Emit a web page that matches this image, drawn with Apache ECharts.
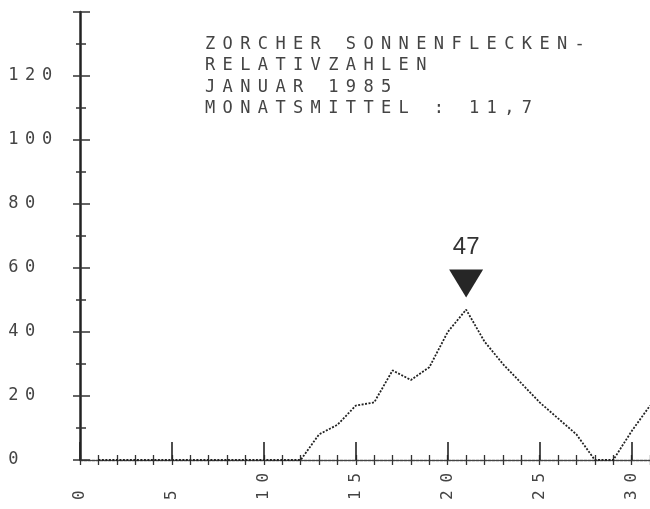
<!DOCTYPE html>
<html>
<head>
<meta charset="utf-8">
<script src="https://cdn.jsdelivr.net/npm/echarts@6/dist/echarts.min.js"></script>
<style>
html,body{margin:0;padding:0;background:#fff;}
#c{width:650px;height:509px;}
</style>
</head>
<body>
<div id="c"></div>
<script>
// Data
const days = [1,2,3,4,5,6,7,8,9,10,11,12,13,14,15,16,17,18,19,20,21,22,23,24,25,26,27,28,29,30,31];
const sunspots = [0,0,0,0,0,0,0,0,0,0,0,0,8,11,17,18,28,25,29,40,47,37,30,24,18,13,8,0,0,9,17];
const peakDay = 21;
const peakValue = 47;
const xTickLabels = [0,5,10,15,20,25,30];
const yTickLabels = [0,20,40,60,80,100,120];
const titleLines = ['ZORCHER SONNENFLECKEN-','RELATIVZAHLEN','JANUAR 1985','MONATSMITTEL : 11,7'];

const MONO = 'DejaVu Sans Mono';
const INK = '#444';
const PITCH = 17.5;

function spaced(str, tag) {
  return String(str).split('').map(c => '{' + tag + '|' + c + '}').join('');
}

const chart = echarts.init(document.getElementById('c'), null, {renderer: 'canvas'});

const xBase = {
  type: 'value', min: 0, max: 31, interval: 1, position: 'bottom',
  splitLine: {show: false}, axisLabel: {show: false}, axisLine: {show: false}
};

const option = {
  animation: false,
  backgroundColor: '#fff',
  grid: {left: 80, right: 0, top: 12, bottom: 49, containLabel: false, outerBoundsMode: 'none'},
  xAxis: [
    Object.assign({}, xBase, {
      axisLine: {show: true, lineStyle: {color: '#444', width: 1.3, type: [3, 1]}},
      axisTick: {show: true, inside: true, length: 5, lineStyle: {color: '#333', width: 1.3}}
    }),
    Object.assign({}, xBase, {
      axisTick: {show: true, inside: false, length: 5, lineStyle: {color: '#333', width: 1.3}}
    }),
    Object.assign({}, xBase, {
      interval: 5,
      axisTick: {show: true, inside: true, length: 18, customValues: xTickLabels, lineStyle: {color: '#222', width: 1.6}},
      axisLabel: {
        show: true, customValues: xTickLabels, rotate: 90, align: 'left', verticalAlign: 'middle', margin: 44,
        formatter: v => spaced(v, 'd'),
        rich: {d: {width: PITCH, align: 'center', fontFamily: MONO, fontSize: 16, color: INK}}
      }
    })
  ],
  yAxis: [
    {
      type: 'value', min: 0, max: 140, interval: 20, position: 'left',
      splitLine: {show: false},
      axisLine: {show: true, lineStyle: {color: '#222', width: 2.5}},
      axisTick: {show: true, inside: false, length: 7, lineStyle: {color: '#333', width: 1.5}},
      minorTick: {show: true, splitNumber: 2, length: 4, lineStyle: {color: '#333', width: 1.5}},
      axisLabel: {
        show: true, customValues: yTickLabels, align: 'left', verticalAlign: 'middle', margin: 75,
        formatter: v => spaced(v, 'd'),
        rich: {d: {width: 16.8, align: 'center', fontFamily: MONO, fontSize: 17, color: INK}}
      }
    },
    {
      type: 'value', min: 0, max: 140, interval: 20, position: 'left',
      splitLine: {show: false},
      axisLine: {show: false},
      axisLabel: {show: false},
      axisTick: {show: true, inside: true, length: 10, lineStyle: {color: '#333', width: 1.5}},
      minorTick: {show: true, splitNumber: 2, length: 6, lineStyle: {color: '#333', width: 1.5}}
    }
  ],
  graphic: [{
    type: 'text', left: 205, top: 36, z: 10,
    style: {
      text: titleLines.map(l => spaced(l, 't')).join('\n'),
      rich: {t: {width: 17.6, align: 'left', fontFamily: MONO, fontSize: 17, lineHeight: 21.5, fill: INK, color: INK}}
    }
  }],
  series: [{
    type: 'line',
    xAxisIndex: 0, yAxisIndex: 0,
    data: days.map((d, i) => [d, sunspots[i]]),
    showSymbol: false,
    symbol: 'none',
    lineStyle: {color: '#222', width: 1.8, type: [2, 1.5]},
    markPoint: {
      data: [{coord: [peakDay, peakValue], value: peakValue}],
      symbol: 'triangle',
      symbolRotate: 180,
      symbolSize: [34, 28],
      symbolOffset: [0, -26],
      itemStyle: {color: '#262626'},
      label: {show: true, position: 'top', distance: 10, formatter: String(peakValue),
              fontFamily: 'Liberation Sans', fontSize: 24, color: '#333'}
    }
  }]
};
chart.setOption(option);
</script>
</body>
</html>
